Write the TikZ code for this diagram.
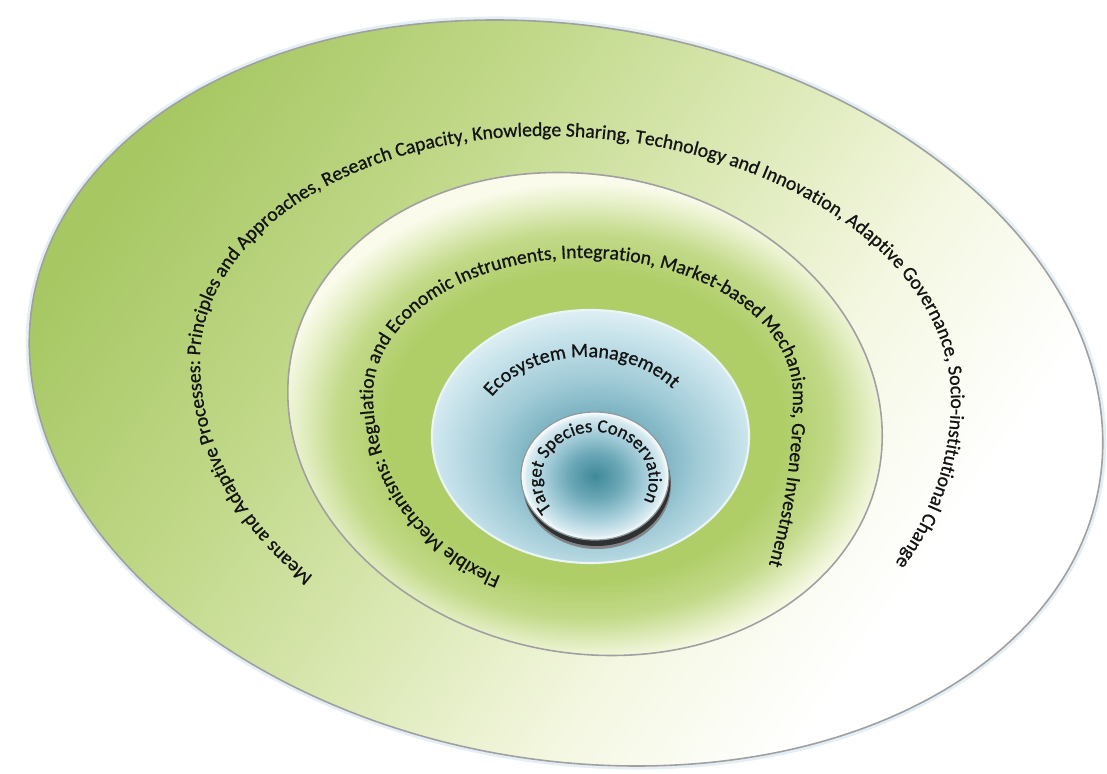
\documentclass[tikz,border=0pt]{standalone}
\usepackage{fontspec}
\setmainfont{Carlito}
\newfontfamily\ringfont[FakeBold=0.8]{Carlito}
\usetikzlibrary{decorations.text}

\definecolor{bandgreen}{HTML}{A6C762}
\definecolor{bandmid}{HTML}{C0D888}
\definecolor{bandpale}{HTML}{DCE9B6}
\definecolor{bandcream}{HTML}{F4F7E1}
\definecolor{ringgreen}{HTML}{AFCE68}
\definecolor{ringmid}{HTML}{C3DA8A}
\definecolor{ringpale}{HTML}{E5EFC6}
\definecolor{ringcream}{HTML}{FAFBEB}
\definecolor{ecodeep}{HTML}{4C92A4}
\definecolor{ecomid}{HTML}{6EA9B9}
\definecolor{ecolight}{HTML}{9FCAD6}
\definecolor{ecopale}{HTML}{C8E3EB}
\definecolor{ecoedge}{HTML}{EAF5F8}
\definecolor{coredeep}{HTML}{3F8999}
\definecolor{coremid}{HTML}{6CA8B7}
\definecolor{corelight}{HTML}{A6CEDA}
\definecolor{corepale}{HTML}{D7EAF0}
\definecolor{coreshadow}{HTML}{2F3133}
\definecolor{corerim}{HTML}{8D9CA1}
\definecolor{rimgray}{HTML}{A0A0A0}
\definecolor{halo}{HTML}{E4EEF4}
\definecolor{inkgray}{HTML}{141414}

\pgfdeclarehorizontalshading{bandshade}{100bp}{color(0bp)=(bandgreen); color(25bp)=(bandgreen); color(38bp)=(bandmid); color(50bp)=(bandpale); color(60bp)=(bandcream); color(70bp)=(white); color(100bp)=(white)}
\pgfdeclareradialshading{ringshade}{\pgfpoint{0bp}{-2bp}}{color(0bp)=(ringgreen); color(16bp)=(ringgreen); color(20bp)=(ringmid); color(23bp)=(ringpale); color(25bp)=(ringcream); color(50bp)=(ringcream)}
\pgfdeclareradialshading{ecoshade}{\pgfpoint{1bp}{-7bp}}{color(0bp)=(ecodeep); color(8bp)=(ecomid); color(16bp)=(ecolight); color(24bp)=(ecopale); color(30bp)=(ecoedge); color(50bp)=(ecoedge)}
\pgfdeclareradialshading{coreshade}{\pgfpoint{0bp}{0bp}}{color(0bp)=(coredeep); color(9bp)=(coremid); color(17bp)=(corelight); color(23bp)=(corepale); color(25bp)=(white); color(50bp)=(white)}

\begin{document}
\begin{tikzpicture}[x=0.01cm, y=0.01cm,
    rim/.style={draw=rimgray, line width=0.45pt},
    along/.style={decorate, decoration={text along path, text align=center, text={#1}}}]

    \useasboundingbox (0,0) rectangle (1107,773);

    \coordinate (outerc) at (566,380);
    \coordinate (outertext) at (543,413);
    \coordinate (ringc) at (585,359);
    \coordinate (ringtext) at (583,378);
    \coordinate (ecoc) at (590.5,336.5);
    \coordinate (ecotext) at (586,333);
    \coordinate (corec) at (595,297);
    \coordinate (coretext) at (595,293);

    \draw[shift={(outerc)}, xslant=-0.19, draw=halo, line width=2pt] (0,0) ellipse [x radius=532, y radius=373];
    \shadedraw[shift={(outerc)}, xslant=-0.19, rim, shading=bandshade, shading angle=-35] (0,0) ellipse [x radius=532, y radius=373];

    \path[along={|\ringfont\fontsize{5.6}{6.2}\selectfont\color{inkgray}|Means and Adaptive Processes: Principles and Approaches, Research Capacity, Knowledge Sharing, Technology and Innovation, Adaptive Governance, Socio-institutional Change}]
        ([shift={(233:343 and 291)}]outertext) arc [start angle=233, end angle=180, x radius=343, y radius=291]
        arc [start angle=180, end angle=90, x radius=343, y radius=224]
        arc [start angle=90, end angle=0, x radius=408, y radius=264]
        arc [start angle=0, end angle=-35, x radius=408, y radius=323];

    \shadedraw[shift={(ringc)}, xslant=-0.11, rim, shading=ringshade] (0,0) ellipse [x radius=296, y radius=241.5];

    \path[along={|\ringfont\fontsize{5.6}{6.2}\selectfont\color{inkgray}|Flexible Mechanisms: Regulation and Economic Instruments, Integration, Market-based Mechanisms, Green Investment}]
        ([shift={(252:210 and 197)}]ringtext) arc [start angle=252, end angle=180, x radius=210, y radius=197]
        arc [start angle=180, end angle=0, x radius=210, y radius=137]
        arc [start angle=0, end angle=-31, x radius=210, y radius=364];

    \shadedraw[draw=ecoedge, line width=0.6pt, shading=ecoshade] (ecoc) ellipse [x radius=158.5, y radius=126.5];

    \path[along={|\ringfont\fontsize{5.7}{6.3}\selectfont\color{inkgray}|Ecosystem Management}]
        ([shift={(158:110 and 83)}]ecotext) arc [start angle=158, end angle=29, x radius=110, y radius=83];

    \fill[coreshadow!60] ([shift={(2,-9)}]corec) ellipse [x radius=74, y radius=64];
    \fill[coreshadow] ([shift={(1.5,-6)}]corec) ellipse [x radius=74, y radius=64];
    \shadedraw[draw=corerim, line width=0.35pt, shading=coreshade] (corec) ellipse [x radius=74, y radius=64];

    \path[along={|\ringfont\fontsize{5.3}{5.9}\selectfont\color{inkgray}|Target Species Conservation}]
        ([shift={(225:54 and 48)}]coretext) arc [start angle=225, end angle=-34, x radius=54, y radius=48];

\end{tikzpicture}
\end{document}
